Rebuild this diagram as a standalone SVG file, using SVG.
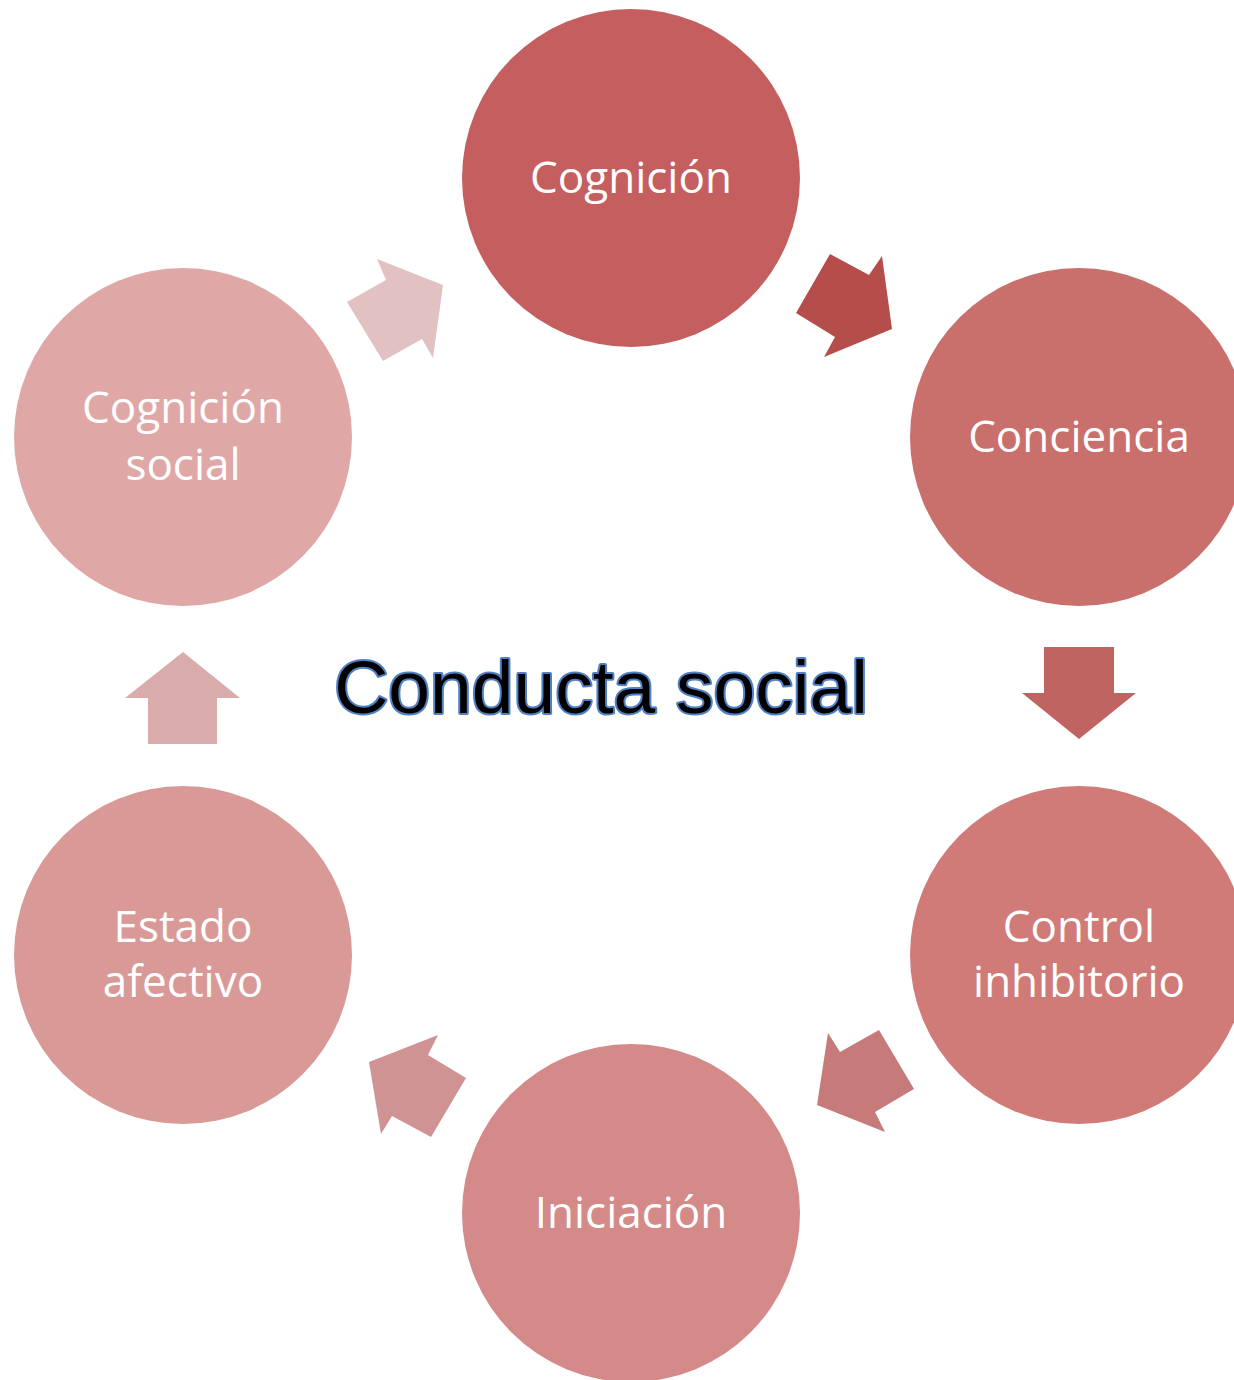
<svg xmlns="http://www.w3.org/2000/svg" width="1234" height="1380" viewBox="0 0 1234 1380">
<style>
.lbl{font-family:"Open Sans","Noto Sans",sans-serif;font-size:44px;fill:#ffffff;text-anchor:middle}
.title{font-family:"Liberation Sans",Arial,sans-serif;font-size:75px;fill:#000000;stroke:#4f81c4;stroke-width:4px;stroke-linejoin:round;paint-order:stroke;text-anchor:middle}
</style>
<rect width="1234" height="1380" fill="#ffffff"/>
<g id="connectors">
<polygon points="830,254 869,275 882,256 892,329 824,357 835,337 796,313" fill="#B54D4A"/>
<polygon points="1044,647 1114,647 1114,693 1136,693 1079,739 1022,693 1044,693" fill="#C06461"/>
<polygon points="879,1030 914,1089 875,1112 885,1132 817,1105 828,1033 840,1052" fill="#C77A7A"/>
<polygon points="438,1035 428,1055 466,1078 431,1137 392,1116 381,1134 369,1062" fill="#D09393"/>
<polygon points="183,652 240,698 217,698 217,744 148,744 148,698 125,698" fill="#D9ABAB"/>
<polygon points="377,259 443,285 433,358 422,339 383,361 347,302 386,280" fill="#E2C1C2"/>
</g>
<g id="n-cognicion"><circle cx="631" cy="178" r="169" fill="#C55F5F"/><text class="lbl" x="631" y="193">Cognición</text></g>
<g id="n-conciencia"><circle cx="1079" cy="437" r="169" fill="#C96F6C"/><text class="lbl" x="1079" y="452">Conciencia</text></g>
<g id="n-control"><circle cx="1079" cy="955" r="169" fill="#D07B78"/><text class="lbl" x="1079" y="942">Control</text><text class="lbl" x="1079" y="997">inhibitorio</text></g>
<g id="n-iniciacion"><circle cx="631" cy="1213" r="169" fill="#D48A88"/><text class="lbl" x="631" y="1228">Iniciación</text></g>
<g id="n-estado"><circle cx="183" cy="955" r="169" fill="#D99A97"/><text class="lbl" x="183" y="942">Estado</text><text class="lbl" x="183" y="997">afectivo</text></g>
<g id="n-cogsocial"><circle cx="183" cy="437" r="169" fill="#DFA8A7"/><text class="lbl" x="183" y="423">Cognición</text><text class="lbl" x="183" y="480">social</text></g>
<g id="title"><text class="title" x="601" y="713">Conducta social</text></g>
</svg>
